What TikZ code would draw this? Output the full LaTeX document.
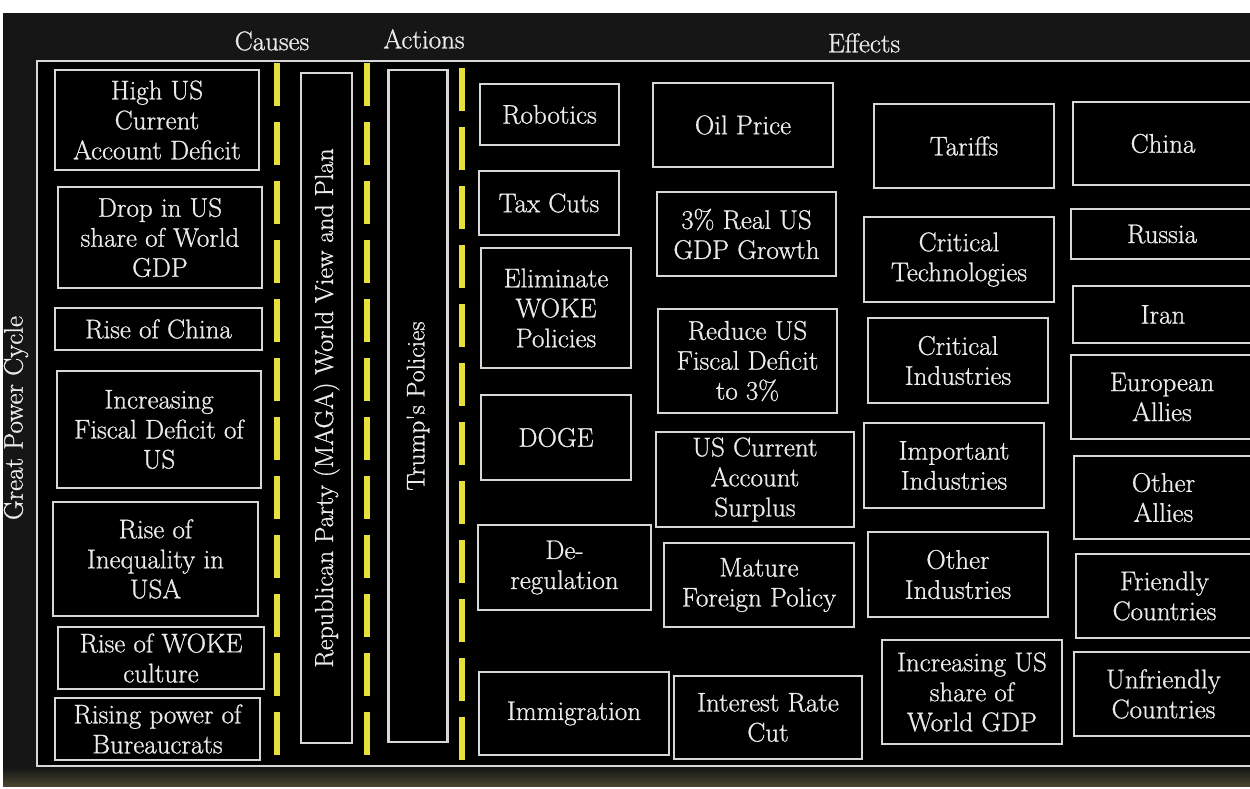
\documentclass[tikz,border=0pt]{standalone}
\usepackage{fontspec}
\newfontfamily\heavyrm{Latin Modern Roman}[FakeBold=0.9]
\definecolor{bgc}{RGB}{22,22,22}
\definecolor{boxline}{RGB}{215,215,215}
\definecolor{txt}{RGB}{235,235,235}
\definecolor{ylw}{RGB}{232,224,58}
\definecolor{olv}{RGB}{72,70,48}
\newcommand\boxfont{\heavyrm\fontsize{27}{30}\selectfont}
\newcommand\hdrfont{\heavyrm\fontsize{27}{30}\selectfont}
\tikzset{
  box/.style={draw=boxline, line width=2.6pt, fill=black, text=txt, align=center, inner sep=0pt, font=\boxfont},
  hdr/.style={text=txt, font=\hdrfont, inner sep=0pt},
  ydash/.style={draw=ylw, line width=6pt, dash pattern=on 43pt off 16pt},
  frame/.style={draw=boxline, line width=2.6pt, fill=black},
}
\begin{document}
\begin{tikzpicture}[x=1pt,y=-1pt]
\useasboundingbox (0,0) rectangle (1250,789);
\clip (0,0) rectangle (1250,789);
% background
\fill[white] (0,0) rectangle (1250,789);
\fill[bgc] (3,13) rectangle (1250,786);
\shade[top color=bgc, bottom color=olv] (3,768) rectangle (1250,786);
\draw[frame] (37,61) rectangle (1262,766);
% headers
\node[hdr] (hcause) at (272,41) {Causes};
\node[hdr] (hact) at (424,39) {Actions};
\node[hdr] (heff) at (864,43) {Effects};
\node[hdr, rotate=90] (gpc) at (16,418) {Great Power Cycle};
% yellow dividers
\coordinate (y1t) at (277,63); \coordinate (y1b) at (277,756);
\coordinate (y2t) at (367,63); \coordinate (y2b) at (367,755);
\coordinate (y3t) at (462,68); \coordinate (y3b) at (462,760);
\draw[ydash] (y1t) -- (y1b);
\draw[ydash] (y2t) -- (y2b);
\draw[ydash] (y3t) -- (y3b);
% causes
\node[box, minimum width=204pt, minimum height=100pt] (c1) at (157,120) {High US\\Current\\Account Deficit};
\node[box, minimum width=204pt, minimum height=101pt] (c2) at (160,237.5) {Drop in US\\share of World\\GDP};
\node[box, minimum width=207pt, minimum height=42pt] (c3) at (158.5,329) {Rise of China};
\node[box, minimum width=204pt, minimum height=117pt] (c4) at (159,429.5) {Increasing\\Fiscal Deficit of\\US};
\node[box, minimum width=205pt, minimum height=114pt] (c5) at (155.5,559) {Rise of\\Inequality in\\USA};
\node[box, minimum width=206pt, minimum height=62pt] (c6) at (161,658) {Rise of WOKE\\culture};
\node[box, minimum width=205pt, minimum height=62pt] (c7) at (157.5,729) {Rising power of\\Bureaucrats};
% plan and policies
\node[box, rotate=90, minimum width=670pt, minimum height=51pt, font=\heavyrm\fontsize{26}{30}\selectfont] (rep) at (326.5,408) {Republican Party (MAGA) World View and Plan};
\node[box, rotate=90, minimum width=672pt, minimum height=59pt, font=\heavyrm\fontsize{25.5}{30}\selectfont] (trump) at (418,406) {Trump's Policies};
% actions column
\node[box, minimum width=139pt, minimum height=61pt] (a1) at (549.5,114.5) {Robotics};
\node[box, minimum width=140pt, minimum height=64pt] (a2) at (549,203) {Tax Cuts};
\node[box, minimum width=150pt, minimum height=120pt] (a3) at (556,308) {Eliminate\\WOKE\\Policies};
\node[box, minimum width=150pt, minimum height=85pt] (a4) at (556,437.5) {DOGE};
\node[box, minimum width=173pt, minimum height=85pt] (a5) at (564.5,567.5) {De-\\regulation};
\node[box, minimum width=190pt, minimum height=83pt] (a6) at (574,713.5) {Immigration};
% second column
\node[box, minimum width=180pt, minimum height=84pt] (b1) at (743,125) {Oil Price};
\node[box, minimum width=179pt, minimum height=84pt] (b2) at (746.5,234) {3\% Real US\\GDP Growth};
\node[box, minimum width=179pt, minimum height=104pt] (b3) at (747.5,361) {Reduce US\\Fiscal Deficit\\to 3\%};
\node[box, minimum width=198pt, minimum height=95pt] (b4) at (755,479.5) {US Current\\Account\\Surplus};
\node[box, minimum width=190pt, minimum height=84pt] (b5) at (759,585) {Mature\\Foreign Policy};
\node[box, minimum width=188pt, minimum height=83pt] (b6) at (768,717.5) {Interest Rate\\Cut};
% third column
\node[box, minimum width=180pt, minimum height=84pt] (e1) at (964,146) {Tariffs};
\node[box, minimum width=190pt, minimum height=85pt] (e2) at (959,259.5) {Critical\\Technologies};
\node[box, minimum width=180pt, minimum height=85pt] (e3) at (958,360.5) {Critical\\Industries};
\node[box, minimum width=180pt, minimum height=85pt] (e4) at (954,465.5) {Important\\Industries};
\node[box, minimum width=180pt, minimum height=85pt] (e5) at (958,574.5) {Other\\Industries};
\node[box, minimum width=180pt, minimum height=104pt] (e6) at (972,692) {Increasing US\\share of\\World GDP};
% fourth column
\node[box, minimum width=180pt, minimum height=83pt] (f1) at (1163,143.5) {China};
\node[box, minimum width=182pt, minimum height=50pt] (f2) at (1162,234) {Russia};
\node[box, minimum width=180pt, minimum height=57pt] (f3) at (1163,314.5) {Iran};
\node[box, minimum width=182pt, minimum height=84pt] (f4) at (1162,397) {European\\Allies};
\node[box, minimum width=179pt, minimum height=83pt] (f5) at (1163.5,497.5) {Other\\Allies};
\node[box, minimum width=177pt, minimum height=84pt] (f6) at (1164.5,596) {Friendly\\Countries};
\node[box, minimum width=179pt, minimum height=84pt] (f7) at (1163.5,694) {Unfriendly\\Countries};
\end{tikzpicture}
\end{document}
